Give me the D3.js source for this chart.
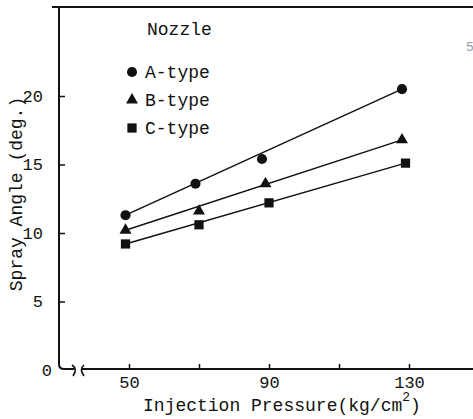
<!DOCTYPE html>
<html>
<head>
<meta charset="utf-8">
<script src="https://d3js.org/d3.v7.min.js"></script>
<style>
  body { margin: 0; background: #fff; }
  text { font-family: "Liberation Mono", "DejaVu Sans Mono", monospace; fill: #111; }
</style>
</head>
<body>
<div id="chart"></div>
<script>
// data
var pressureA = [49, 69, 88, 128],
    angleA    = [11.3, 13.6, 15.4, 20.5];
var pressureB = [49, 70, 89, 128],
    angleB    = [10.2, 11.6, 13.6, 16.8];
var pressureC = [49, 70, 90, 129],
    angleC    = [9.2, 10.6, 12.2, 15.1];

var seriesNames = ["A-type", "B-type", "C-type"];
var xTicks = [50, 70, 90, 110, 130],
    xLabels = [50, 90, 130];
var yTicks = [0, 5, 10, 15, 20];

var width = 473, height = 419;

var svg = d3.select("#chart")
  .append("svg")
    .attr("width", width)
    .attr("height", height);

var x = d3.scaleLinear().domain([50, 130]).range([129, 409]);
var y = d3.scaleLinear().domain([0, 20]).range([370, 96]);

// frame: left axis, top border, bottom axis (broken near the origin)
svg.append("path")
  .attr("d", "M59,6 L59,364 Q59,369 64,369 L74,369")
  .attr("fill", "none").attr("stroke", "#111").attr("stroke-width", 2);
svg.append("line")
  .attr("x1", 82).attr("x2", 473).attr("y1", 369).attr("y2", 369)
  .attr("stroke", "#111").attr("stroke-width", 2);
svg.append("line")
  .attr("x1", 52).attr("x2", 473).attr("y1", 7).attr("y2", 7)
  .attr("stroke", "#111").attr("stroke-width", 2);

// axis break marks
svg.append("path")
  .attr("d", "M72,365 Q78,369 73,376")
  .attr("fill", "none").attr("stroke", "#111").attr("stroke-width", 1.6);
svg.append("path")
  .attr("d", "M84,365 Q79,369 84,376")
  .attr("fill", "none").attr("stroke", "#111").attr("stroke-width", 1.6);

// X axis
var xAxis = svg.append("g")
  .attr("transform", "translate(0,369)")
  .call(d3.axisBottom(x)
    .tickValues(xTicks)
    .tickSize(-5)
    .tickPadding(7)
    .tickFormat(function(d) { return xLabels.indexOf(d) >= 0 ? d : ""; }));
xAxis.select(".domain").remove();
xAxis.selectAll("line").attr("stroke", "#111").attr("stroke-width", 1.5);
xAxis.selectAll("text").style("font-size", "17px").style("font-family", "Liberation Mono, monospace").attr("fill", "#111");

// Y axis
var yAxis = svg.append("g")
  .attr("transform", "translate(59,0)")
  .call(d3.axisLeft(y)
    .tickValues(yTicks)
    .tickSize(-6)
    .tickPadding(16));
yAxis.select(".domain").remove();
yAxis.selectAll("line").attr("stroke", "#111").attr("stroke-width", 1.5)
  .filter(function(d) { return d === 0; }).remove();
yAxis.selectAll("text").style("font-size", "17px").style("font-family", "Liberation Mono, monospace").attr("fill", "#111")
  .filter(function(d) { return d === 0; }).attr("x", -7);

// axis titles
var xt = svg.append("text")
  .attr("x", 143).attr("y", 411)
  .style("font-size", "18px");
xt.append("tspan").text("Injection Pressure(kg/cm");
xt.append("tspan").attr("dy", -10).style("font-size", "13px").text("2");
xt.append("tspan").attr("dy", 10).text(")");

svg.append("text")
  .attr("transform", "translate(22,194) rotate(-90)")
  .style("text-anchor", "middle")
  .style("font-size", "18px")
  .text("Spray Angle (deg.)");

// series
var series = [
  { name: seriesNames[0], xs: pressureA, ys: angleA, sym: d3.symbolCircle, size: 80 },
  { name: seriesNames[1], xs: pressureB, ys: angleB, sym: d3.symbolTriangle, size: 62 },
  { name: seriesNames[2], xs: pressureC, ys: angleC, sym: d3.symbolSquare, size: 85 }
];

series.forEach(function(s) {
  var pts = s.xs.map(function(v, i) { return { p: v, a: s.ys[i] }; });
  var ends = [pts[0], pts[pts.length - 1]];

  svg.append("path")
    .datum(ends)
    .attr("fill", "none")
    .attr("stroke", "#111")
    .attr("stroke-width", 1.5)
    .attr("d", d3.line()
      .x(function(d) { return x(d.p); })
      .y(function(d) { return y(d.a); }));

  svg.selectAll(null)
    .data(pts)
    .enter().append("path")
      .attr("transform", function(d) { return "translate(" + x(d.p) + "," + y(d.a) + ")"; })
      .attr("d", d3.symbol().type(s.sym).size(s.size))
      .attr("fill", "#111");
});

// legend
svg.append("text").attr("x", 147).attr("y", 35).style("font-size", "18px").text("Nozzle");
series.forEach(function(s, i) {
  var ly = 72 + i * 28;
  svg.append("path")
    .attr("transform", "translate(132," + ly + ")")
    .attr("d", d3.symbol().type(s.sym).size(s.size))
    .attr("fill", "#111");
  svg.append("text")
    .attr("x", 145).attr("y", ly + 6)
    .style("font-size", "18px")
    .text(s.name);
});

// stray scan mark at the right edge
svg.append("text").attr("x", 466).attr("y", 51)
  .style("font-size", "13px").style("fill", "#999").text("5");
</script>
</body>
</html>
